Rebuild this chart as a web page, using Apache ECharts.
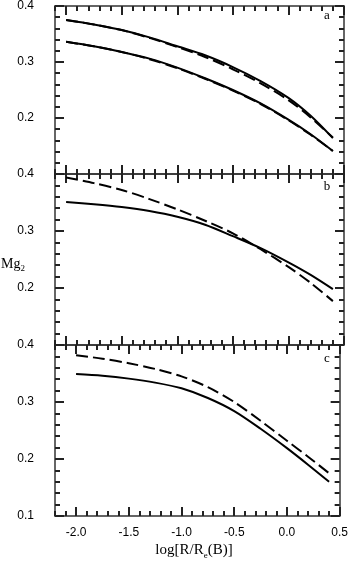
<!DOCTYPE html>
<html>
<head>
<meta charset="utf-8">
<script src="https://cdn.jsdelivr.net/npm/echarts@6/dist/echarts.min.js"></script>
<style>
  html, body { margin: 0; padding: 0; background: #fff; }
  #main { width: 351px; height: 563px; }
</style>
</head>
<body>
<div id="main"></div>
<script>
// log[R/Re(B)] sample positions, shared by every curve
var xs = [-2.0, -1.75, -1.5, -1.25, -1.0, -0.75, -0.5, -0.25, 0.0, 0.2, 0.4];

// panel a
var aSolidHi = [0.375, 0.367, 0.357, 0.344, 0.328, 0.312, 0.291, 0.266, 0.236, 0.204, 0.164];
var aDashHi  = [0.375, 0.367, 0.357, 0.343, 0.327, 0.309, 0.287, 0.262, 0.232, 0.201, 0.165];
var aSolidLo = [0.336, 0.328, 0.318, 0.306, 0.290, 0.271, 0.250, 0.226, 0.197, 0.171, 0.141];
var aDashLo  = [0.336, 0.328, 0.318, 0.305, 0.289, 0.270, 0.249, 0.225, 0.196, 0.170, 0.141];
// panel b
var bSolid = [0.351, 0.347, 0.342, 0.335, 0.325, 0.311, 0.291, 0.270, 0.245, 0.223, 0.198];
var bDash  = [0.394, 0.384, 0.372, 0.356, 0.338, 0.318, 0.296, 0.268, 0.237, 0.209, 0.177];
// panel c
var cSolid = [0.349, 0.346, 0.341, 0.334, 0.324, 0.307, 0.284, 0.253, 0.219, 0.190, 0.160];
var cDash  = [0.382, 0.376, 0.368, 0.358, 0.345, 0.326, 0.300, 0.267, 0.232, 0.204, 0.175];

var xTicks = [-2.0, -1.5, -1.0, -0.5, 0.0, 0.5];
var xMins = [-2.1, -2.1, -2.2];
var panelNames = ['a', 'b', 'c'];

var myChart = echarts.init(document.getElementById('main'));

var axisCol = '#333';
var tickCol = '#222';
var sansFont = '"Liberation Sans", Arial, sans-serif';
var serifFont = '"Liberation Serif", "Times New Roman", serif';

function pts(ys) {
  var out = [];
  for (var i = 0; i < xs.length; i++) out.push([xs[i], ys[i]]);
  return out;
}

var grids = [], xAxes = [], yAxes = [], series = [];
var tops = [3, 174, 345];

for (var g = 0; g < 3; g++) {
  grids.push({ left: 55, top: tops[g], width: 289, height: 171 });
  ['bottom', 'top'].forEach(function (pos) {
    // minor ticks every 0.1
    xAxes.push({
      type: 'value', gridIndex: g, position: pos, min: xMins[g], max: 0.5, interval: 0.1,
      axisLine: { show: true, onZero: false, lineStyle: { color: axisCol, width: 1.5 } },
      axisTick: { show: true, inside: true, length: 5, lineStyle: { color: tickCol, width: 2 } },
      axisLabel: { show: false }, splitLine: { show: false }
    });
    // major ticks every 0.5
    xAxes.push({
      type: 'value', gridIndex: g, position: pos, min: xMins[g], max: 0.5,
      axisLine: { show: false, onZero: false },
      axisTick: { show: true, inside: true, length: 9, customValues: xTicks, lineStyle: { color: tickCol, width: 2 } },
      axisLabel: {
        show: (g == 2 && pos == 'bottom'), customValues: xTicks, margin: 11,
        fontSize: 12, fontFamily: sansFont, color: '#000',
        formatter: function (v) { return v.toFixed(1); }
      },
      splitLine: { show: false }
    });
  });
  ['left', 'right'].forEach(function (pos) {
    yAxes.push({
      type: 'value', gridIndex: g, position: pos, min: 0.1, max: 0.4, interval: 0.1,
      axisLine: { show: true, onZero: false, lineStyle: { color: axisCol, width: 1.5 } },
      axisTick: { show: true, inside: true, length: 9, lineStyle: { color: tickCol, width: 2 } },
      minorTick: { show: true, splitNumber: 5, length: 5, lineStyle: { color: tickCol, width: 2 } },
      axisLabel: {
        show: pos == 'left', showMinLabel: g == 2, margin: 21,
        fontSize: 12, fontFamily: sansFont, color: '#000',
        formatter: function (v) { return v.toFixed(1); }
      },
      splitLine: { show: false }
    });
  });
}

function line(g, ys, dashed) {
  return {
    type: 'line', xAxisIndex: g * 4, yAxisIndex: g * 2,
    data: pts(ys), showSymbol: false, smooth: 0.3,
    lineStyle: { color: '#000', width: 2, type: dashed ? [12, 5] : 'solid' },
    animation: false
  };
}

series.push(line(0, aDashHi, true), line(0, aDashLo, true), line(0, aSolidHi, false), line(0, aSolidLo, false));
series.push(line(1, bDash, true), line(1, bSolid, false));
series.push(line(2, cDash, true), line(2, cSolid, false));

var graphics = [];
var letterY = [16, 187, 359];
for (var k = 0; k < 3; k++) {
  graphics.push({
    type: 'text', x: 327, y: letterY[k],
    style: { text: panelNames[k], font: '13px ' + serifFont, fill: '#000', align: 'center', verticalAlign: 'middle' }
  });
}
graphics.push({
  type: 'text', x: 1, y: 264,
  style: {
    text: '{m|Mg}{s|2}', verticalAlign: 'middle',
    rich: {
      m: { fontSize: 14, fontFamily: serifFont, fill: '#000', lineHeight: 18, verticalAlign: 'middle' },
      s: { fontSize: 9, fontFamily: serifFont, fill: '#000', lineHeight: 8, verticalAlign: 'bottom' }
    }
  }
});
graphics.push({
  type: 'text', x: 194, y: 550,
  style: {
    text: '{m|log[R/R}{s|e}{m|(B)]}', align: 'center', verticalAlign: 'middle',
    rich: {
      m: { fontSize: 15, fontFamily: serifFont, fill: '#000', lineHeight: 20, verticalAlign: 'middle' },
      s: { fontSize: 9, fontFamily: serifFont, fill: '#000', lineHeight: 8, verticalAlign: 'bottom' }
    }
  }
});

myChart.setOption({
  animation: false,
  grid: grids,
  xAxis: xAxes,
  yAxis: yAxes,
  series: series,
  graphic: graphics
});
</script>
</body>
</html>
